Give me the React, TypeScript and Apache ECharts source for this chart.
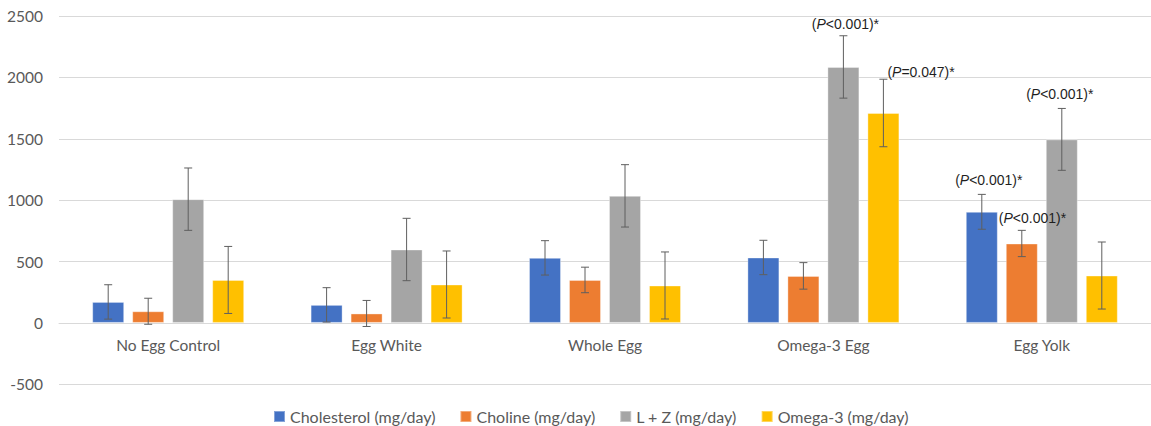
import React, { useEffect, useRef } from "react";
import * as echarts from "echarts";

// Daily intake per diet group, with standard-error bars
const CATEGORIES = ["No Egg Control", "Egg White", "Whole Egg", "Omega-3 Egg", "Egg Yolk"];
const SERIES_NAMES = [
  "Cholesterol (mg/day)",
  "Choline (mg/day)",
  "L + Z (mg/day)",
  "Omega-3 (mg/day)",
];
const CHOLESTEROL = [171, 147, 530, 533, 905];
const CHOLINE = [95, 77, 350, 383, 647];
const LUTEIN_ZEAXANTHIN = [1008, 598, 1035, 2085, 1495];
const OMEGA3 = [350, 313, 305, 1710, 386];

const CHOLESTEROL_ERR = [140, 140, 140, 140, 142];
const CHOLINE_ERR = [106, 106, 104, 108, 107];
const LUTEIN_ZEAXANTHIN_ERR = [254, 254, 254, 254, 252];
const OMEGA3_ERR = [273, 273, 273, 275, 273];

const Y_TICKS = { min: -500, max: 2500, interval: 500 };

// Significance notes attached to particular bars
const ANNOTATIONS = [
  { category: "Omega-3 Egg", series: 2, p: "<0.001" },
  { category: "Omega-3 Egg", series: 3, p: "=0.047" },
  { category: "Egg Yolk", series: 0, p: "<0.001" },
  { category: "Egg Yolk", series: 1, p: "<0.001" },
  { category: "Egg Yolk", series: 2, p: "<0.001" },
];

// where each note sits relative to the top of its error bar
const NOTE_PLACEMENT = [
  { dx: 2, dy: -12, align: "center" },
  { dx: 4, dy: -7, align: "left" },
  { dx: 7, dy: -14, align: "center" },
  { dx: -23, dy: -12, align: "left" },
  { dx: -2, dy: -14, align: "center" },
];

const COLORS = ["#4472C4", "#ED7D31", "#A5A5A5", "#FFC000"];
const BAR_WIDTH = 32;
const BAR_GAP = 8;
const CAP_HALF = 4;
const AXIS_FONT = "Lato";
const NOTE_FONT = "Liberation Sans";

const GRID = { left: 59, right: -6, top: 16, bottom: 41.7 };
const CHART_W = 1151;
const CHART_H = 426;

const VALUES = [CHOLESTEROL, CHOLINE, LUTEIN_ZEAXANTHIN, OMEGA3];
const ERRORS = [CHOLESTEROL_ERR, CHOLINE_ERR, LUTEIN_ZEAXANTHIN_ERR, OMEGA3_ERR];

export default function App() {
  const ref = useRef<HTMLDivElement>(null);

  useEffect(() => {
    if (!ref.current) return;
    const chart = echarts.init(ref.current, undefined, { renderer: "svg" });

    const errorData: number[][] = [];
    VALUES.forEach((vals, s) => {
      vals.forEach((v, c) => errorData.push([c, s, v, ERRORS[s][c]]));
    });

    const noteFor = (c: number, s: number) =>
      ANNOTATIONS.findIndex((a) => CATEGORIES.indexOf(a.category) === c && a.series === s);

    // the category axis sits on the zero line, so lift it from the grid bottom
    const gridHeight = CHART_H - GRID.top - GRID.bottom;
    const zeroLift = (gridHeight * (0 - Y_TICKS.min)) / (Y_TICKS.max - Y_TICKS.min);

    const barSeries = SERIES_NAMES.map((name, s) => ({
      name,
      type: "bar",
      data: VALUES[s],
      barWidth: BAR_WIDTH,
      barGap: `${(BAR_GAP / BAR_WIDTH) * 100}%`,
      itemStyle: {
        color: COLORS[s],
        borderColor: "rgba(255,255,255,0.35)",
        borderWidth: 1,
      },
    }));

    const noteRich = {
      n: { fontFamily: NOTE_FONT, fontSize: 14, color: "#1F1F1F" },
      i: { fontFamily: NOTE_FONT, fontSize: 14, fontStyle: "italic", color: "#1F1F1F" },
    };

    const errorSeries = {
      type: "custom",
      z: 5,
      encode: { x: 0, y: 2 },
      data: errorData,
      renderItem: (_params: any, api: any) => {
        const c = api.value(0);
        const s = api.value(1);
        const mean = api.value(2);
        const err = api.value(3);
        const offset = (s - 1.5) * (BAR_WIDTH + BAR_GAP);
        const top = api.coord([c, mean + err]);
        const bot = api.coord([c, mean - err]);
        const x = top[0] + offset;
        const lineStyle = { stroke: "#5F5F5F", lineWidth: 1 };
        const children: any[] = [
          { type: "line", shape: { x1: x, y1: top[1], x2: x, y2: bot[1] }, style: lineStyle },
          { type: "line", shape: { x1: x - CAP_HALF, y1: top[1], x2: x + CAP_HALF, y2: top[1] }, style: lineStyle },
          { type: "line", shape: { x1: x - CAP_HALF, y1: bot[1], x2: x + CAP_HALF, y2: bot[1] }, style: lineStyle },
        ];
        const idx = noteFor(c, s);
        if (idx >= 0) {
          const place = NOTE_PLACEMENT[idx];
          children.push({
            type: "text",
            x: x + place.dx,
            y: top[1] + place.dy,
            style: {
              text: `{n|(}{i|P}{n|${ANNOTATIONS[idx].p})*}`,
              align: place.align,
              verticalAlign: "middle",
              fill: "#1F1F1F",
              rich: noteRich,
            },
          });
        }
        return { type: "group", children };
      },
    };

    chart.setOption({
      animation: false,
      backgroundColor: "#FFFFFF",
      grid: { ...GRID, containLabel: false },
      legend: {
        data: SERIES_NAMES,
        left: 273,
        top: 408,
        padding: 0,
        icon: "rect",
        itemWidth: 11,
        itemHeight: 11,
        itemGap: 24,
        textStyle: { color: "#595959", fontSize: 16, lineHeight: 17, fontFamily: AXIS_FONT },
      },
      xAxis: {
        type: "category",
        data: CATEGORIES,
        offset: -zeroLift,
        axisTick: { show: false },
        axisLine: { show: true, onZero: false, lineStyle: { color: "#D9D9D9", width: 1 } },
        axisLabel: { color: "#595959", fontSize: 15.5, fontFamily: AXIS_FONT, margin: 14 },
      },
      yAxis: {
        type: "value",
        min: Y_TICKS.min,
        max: Y_TICKS.max,
        interval: Y_TICKS.interval,
        axisLine: { show: false },
        axisTick: { show: false },
        axisLabel: {
          color: "#595959",
          fontSize: 15.5,
          fontFamily: AXIS_FONT,
          margin: 16,
          formatter: (v: number) => String(v),
        },
        splitLine: { lineStyle: { color: "#D9D9D9", width: 1 } },
      },
      series: [...barSeries, errorSeries],
    });

    return () => chart.dispose();
  }, []);

  return (
    <div
      ref={ref}
      style={{ position: "fixed", left: 0, top: 0, width: CHART_W, height: CHART_H, background: "#fff" }}
    />
  );
}
